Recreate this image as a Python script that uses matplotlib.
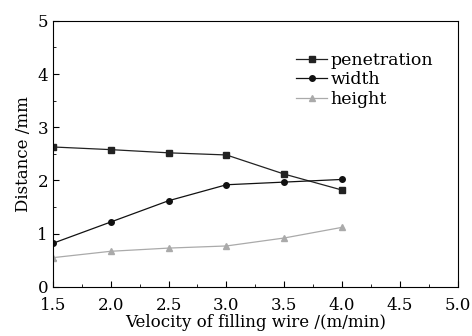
import matplotlib.pyplot as plt
from matplotlib.ticker import MultipleLocator

plt.rcParams['font.family'] = ['DejaVu Serif']

velocity = [1.5, 2.0, 2.5, 3.0, 3.5, 4.0]
penetration = [2.63, 2.58, 2.52, 2.48, 2.12, 1.82]
width = [0.82, 1.22, 1.62, 1.92, 1.97, 2.02]
height = [0.55, 0.67, 0.73, 0.77, 0.92, 1.12]

fig = plt.figure(figsize=(4.72, 3.36), dpi=100)
ax = fig.add_axes([0.112, 0.146, 0.858, 0.792])

ax.plot(velocity, penetration, '-s', color='#222222', lw=0.9, ms=4, label='penetration')
ax.plot(velocity, width, '-o', color='#111111', lw=0.9, ms=4, label='width')
ax.plot(velocity, height, '-^', color='#aaaaaa', lw=0.9, ms=4, label='height')

ax.set_xlim(1.5, 5.0)
ax.set_ylim(0, 5)
ax.xaxis.set_major_locator(MultipleLocator(0.5))
ax.xaxis.set_minor_locator(MultipleLocator(0.25))
ax.yaxis.set_major_locator(MultipleLocator(1))
ax.yaxis.set_minor_locator(MultipleLocator(0.5))
ax.tick_params(which='both', direction='in', labelsize=12)
ax.tick_params(which='major', length=4)
ax.tick_params(which='minor', length=2)
ax.tick_params(axis='x', pad=7)
ax.set_xlabel('Velocity of filling wire /(m/min)', fontsize=12, labelpad=0)
ax.set_ylabel('Distance /mm', fontsize=12, labelpad=4)

ax.legend(loc='upper left', bbox_to_anchor=(0.583, 0.91), frameon=False, fontsize=12.5,
          handlelength=1.8, handletextpad=0.2, labelspacing=0.15, borderaxespad=0)

fig.savefig('out.png')
